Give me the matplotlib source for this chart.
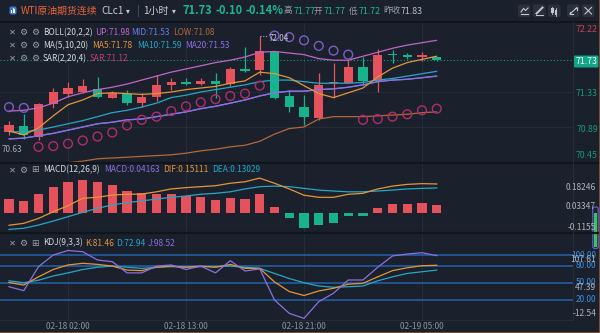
import matplotlib
matplotlib.use("Agg")
import matplotlib.pyplot as plt
from matplotlib.patches import Rectangle, FancyBboxPatch
import numpy as np

plt.rcParams['font.family'] = ['Noto Sans CJK SC', 'DejaVu Sans']

# ---------------- data: WTI crude, 1h candles ----------------
opens  = [70.83, 70.90, 70.76, 71.18, 71.31, 71.33, 71.37, 71.26, 71.30, 71.19,
          71.27, 71.42, 71.45, 71.43, 71.47, 71.43, 71.62, 71.61, 71.83, 71.28,
          71.14, 71.00, 71.44, 71.44, 71.64, 71.47, 71.80, 71.79, 71.77, 71.77]
highs  = [70.96, 71.05, 71.19, 71.38, 71.45, 71.49, 71.52, 71.34, 71.35, 71.32,
          71.54, 71.50, 71.50, 71.50, 71.57, 71.65, 71.90, 72.04, 71.84, 71.36,
          71.29, 71.57, 71.70, 71.74, 71.77, 71.87, 71.86, 71.82, 71.83, 71.77]
lows   = [70.79, 70.74, 70.73, 71.13, 71.27, 71.32, 71.25, 71.25, 71.17, 71.14,
          71.22, 71.36, 71.42, 71.42, 71.26, 71.40, 71.58, 71.54, 71.24, 71.08,
          70.92, 70.98, 71.25, 71.44, 71.42, 71.33, 71.69, 71.74, 71.72, 71.72]
closes = [70.92, 70.79, 71.18, 71.33, 71.38, 71.40, 71.27, 71.32, 71.19, 71.27,
          71.42, 71.46, 71.43, 71.47, 71.43, 71.62, 71.60, 71.85, 71.26, 71.14,
          71.01, 71.42, 71.45, 71.65, 71.47, 71.80, 71.79, 71.77, 71.79, 71.73]

boll_up  = [71.09, 71.10, 71.13, 71.19, 71.27, 71.32, 71.36, 71.39, 71.43, 71.48,
            71.53, 71.58, 71.62, 71.66, 71.70, 71.73, 71.77, 71.83, 71.84, 71.82,
            71.80, 71.75, 71.73, 71.73, 71.78, 71.83, 71.88, 71.92, 71.95, 71.98]
boll_mid = [70.74, 70.75, 70.78, 70.81, 70.85, 70.89, 70.93, 70.95, 70.98, 70.99,
            71.02, 71.05, 71.08, 71.12, 71.15, 71.19, 71.23, 71.28, 71.32, 71.34,
            71.34, 71.36, 71.37, 71.39, 71.42, 71.46, 71.48, 71.49, 71.51, 71.53]
boll_low = [70.39, 70.40, 70.42, 70.44, 70.44, 70.46, 70.49, 70.50, 70.51, 70.52,
            70.53, 70.54, 70.56, 70.59, 70.61, 70.64, 70.66, 70.71, 70.80, 70.87,
            70.89, 70.99, 71.02, 71.02, 71.02, 71.03, 71.04, 71.05, 71.07, 71.08]
ma5  = [70.84, 70.79, 70.88, 71.03, 71.17, 71.23, 71.31, 71.32, 71.31, 71.30,
        71.31, 71.33, 71.36, 71.38, 71.40, 71.44, 71.47, 71.58, 71.56, 71.51,
        71.41, 71.31, 71.26, 71.32, 71.38, 71.52, 71.63, 71.70, 71.74, 71.78]
ma10 = [70.83, 70.83, 70.85, 70.89, 70.93, 70.97, 71.02, 71.07, 71.10, 71.14,
        71.19, 71.26, 71.29, 71.33, 71.36, 71.39, 71.42, 71.46, 71.48, 71.48,
        71.46, 71.44, 71.44, 71.44, 71.45, 71.48, 71.50, 71.53, 71.56, 71.59]
ma20 = boll_mid  # BOLL middle band is the 20-period MA
sar  = [71.14, 71.13, 70.64, 70.65, 70.68, 70.72, 70.77, 70.82, 70.91, 70.98,
        71.02, 71.09, 71.15, 71.20, 71.24, 71.28, 71.31, 71.41, 72.04, 72.02,
        71.98, 71.91, 71.85, 71.80, 70.98, 70.99, 71.02, 71.05, 71.10, 71.12]

macd_hist = [0.072, 0.062, 0.098, 0.137, 0.163, 0.174, 0.160, 0.146, 0.114, 0.102,
             0.098, 0.098, 0.088, 0.081, 0.067, 0.076, 0.072, 0.097, 0.032, -0.030,
             -0.082, -0.065, -0.053, -0.016, -0.016, 0.023, 0.047, 0.047, 0.053, 0.04163]
dif = [-0.066, -0.056, -0.030, 0.005, 0.037, 0.076, 0.081, 0.093, 0.097, 0.098,
       0.110, 0.125, 0.132, 0.137, 0.142, 0.155, 0.163, 0.182, 0.155, 0.125,
       0.092, 0.081, 0.081, 0.097, 0.102, 0.125, 0.140, 0.149, 0.153, 0.15111]
dea = [-0.088, -0.082, -0.065, -0.044, -0.021, 0.002, 0.023, 0.041, 0.053, 0.062,
       0.072, 0.081, 0.088, 0.097, 0.102, 0.110, 0.125, 0.137, 0.140, 0.137,
       0.128, 0.119, 0.114, 0.110, 0.110, 0.114, 0.119, 0.125, 0.128, 0.13029]

k_line = [51.0, 46.5, 61.0, 74.0, 82.0, 85.0, 83.0, 80.0, 73.0, 72.0,
          78.0, 80.0, 78.0, 80.0, 78.0, 83.0, 76.0, 76.0, 52.0, 35.0,
          28.0, 36.0, 40.7, 48.0, 49.5, 61.0, 72.0, 77.0, 80.7, 81.46]
d_line = [54.0, 50.6, 55.0, 62.5, 68.0, 74.0, 78.0, 80.0, 78.0, 76.0,
          78.0, 79.0, 78.0, 79.0, 79.0, 80.0, 78.0, 76.0, 67.0, 58.0,
          50.6, 44.8, 42.5, 43.5, 44.8, 54.0, 61.0, 67.0, 70.0, 72.94]
j_line = [43.5, 36.5, 79.0, 99.6, 107.61, 105.5, 90.8, 87.8, 68.0, 68.0,
          80.0, 82.0, 74.0, 80.0, 68.0, 89.6, 71.3, 75.0, 20.0, -3.6,
          -12.54, 17.0, 32.0, 55.4, 55.4, 78.0, 98.0, 101.4, 103.7, 98.52]

tick_pos = [4, 12, 20, 28]
tick_labels = ["02-18 02:00", "02-18 13:00", "02-18 21:00", "02-19 05:00"]

last_price = 71.73
price_axis = ["72.22", "71.33", "70.89", "70.45"]
macd_axis = ["0.18246", "0.03347", "-0.1155"]
kdj_levels = [100, 80, 50, 20]
kdj_extra = ["107.61", "47.39", "-12.54"]

# ---------------- styling / layout ----------------
W, H = 600, 333
BG = '#1b212c'
GRID = '#252c38'
SEP = '#10141b'
RED = '#e5525c'
GREEN = '#17b38d'
C_UP, C_MID, C_LOW = '#c066c6', '#6a7ee6', '#b4673a'
C_MA5, C_MA10, C_MA20 = '#e2963a', '#27a6c6', '#8c6fe0'
C_SAR_UP, C_SAR_DN = '#b02c6c', '#7d5cc4'
TXT = '#d2d6de'
GRAY = '#9aa0aa'
X0, STEP, PLOT_R = 9.0, 14.75, 573

fig = plt.figure(figsize=(W / 100, H / 100), dpi=100)
fig.patch.set_facecolor(BG)


def frect(x0, y0, x1, y1):
    return [x0 / W, 1 - y1 / H, (x1 - x0) / W, (y1 - y0) / H]


def panel(y0, y1, lo, hi):
    ax = fig.add_axes(frect(0, y0, PLOT_R, y1))
    ax.set_facecolor(BG)
    ax.set_xlim(-X0 / STEP, (PLOT_R - X0) / STEP)
    ax.set_ylim(lo, hi)
    ax.set_xticks([])
    ax.set_yticks([])
    for s in ax.spines.values():
        s.set_visible(False)
    for t in tick_pos:
        ax.axvline(t, color=GRID, lw=0.8, zorder=0)
    return ax


idx = np.arange(len(closes))

# ---- main price panel ----
PX = 79.5  # pixels per price unit
ax = panel(22, 162, 71.33 - 70 / PX, 71.33 + 70 / PX)
for g in (71.33, 70.89):
    ax.axhline(g, color=GRID, lw=0.8, zorder=0)
ax.axhline(last_price, color='#139a80', lw=0.8, ls=(0, (1, 2)), zorder=2)

for i, o, h, l, c in zip(idx, opens, highs, lows, closes):
    col = RED if c > o else GREEN
    ax.vlines(i, l, h, color=col, lw=0.9, zorder=3)
    ax.add_patch(Rectangle((i - 0.32, min(o, c)), 0.64, max(abs(c - o), 0.012),
                           facecolor=col, edgecolor='none', zorder=4))

for series, col in ((boll_up, C_UP), (boll_low, C_LOW), (boll_mid, C_MID),
                    (ma10, C_MA10), (ma20, C_MA20), (ma5, C_MA5)):
    ax.plot(idx, series, color=col, lw=0.9, zorder=5, solid_capstyle='round')

sar_cols = [C_SAR_DN if s > c else C_SAR_UP for s, c in zip(sar, closes)]
ax.scatter(idx, sar, s=40, facecolors='none', edgecolors=sar_cols, linewidths=1.0, zorder=6)

hi_i = int(np.argmax(highs))
ax.plot([hi_i + 0.05, hi_i + 0.55], [highs[hi_i]] * 2, color='#a8acb4', lw=0.8,
        ls=(0, (1, 1.5)), zorder=7)
ax.text(hi_i + 0.58, highs[hi_i] - 0.035, f"{highs[hi_i]:.2f}", color='#c0c4cc',
        fontsize=5.8, ha='left', va='center', zorder=7)

# ---- MACD panel ----
MP = 190.0
axm = panel(164, 233, (212.7 - 233) / MP, (212.7 - 164) / MP)
axm.bar(idx, macd_hist, width=0.64, color=[RED if v >= 0 else GREEN for v in macd_hist], zorder=3)
axm.plot(idx, dea, color=C_MA10, lw=0.9, zorder=4)
axm.plot(idx, dif, color=C_MA5, lw=0.9, zorder=4)

# ---- KDJ panel ----
KP = 0.565
axk = panel(233, 320, (311.3 - 320) / KP, (311.3 - 233) / KP)
for lv in kdj_levels:
    axk.axhline(lv, color='#2263ad', lw=1.1, zorder=1)
axk.plot(idx, d_line, color=C_MA10, lw=0.9, zorder=3)
axk.plot(idx, k_line, color=C_MA5, lw=0.9, zorder=3)
axk.plot(idx, j_line, color=C_MA20, lw=0.9, zorder=4)

# ---------------- overlay: header, legends, axis labels ----------------
oax = fig.add_axes([0, 0, 1, 1], zorder=10)
oax.set_xlim(0, W)
oax.set_ylim(H, 0)
oax.axis('off')
oax.patch.set_alpha(0)

# separators
oax.plot([0, W], [22, 22], color=SEP, lw=1.2)
oax.plot([0, W], [163, 163], color=SEP, lw=1.6)
oax.plot([0, W], [233, 233], color=SEP, lw=1.6)
oax.plot([0, PLOT_R], [320, 320], color=GRID, lw=0.8)
oax.plot([PLOT_R, PLOT_R], [22, 320], color=GRID, lw=0.8)
oax.plot([599.5, 599.5], [0, H], color='#8a5636', lw=1.2)
oax.plot([0, W], [332.5, 332.5], color='#8a5636', lw=1.2)


def t(x, y, s, col=TXT, size=6.0, **kw):
    kw.setdefault('ha', 'left')
    kw.setdefault('va', 'center')
    oax.text(x, y, s, color=col, fontsize=size, **kw)


# title bar
oax.add_patch(FancyBboxPatch((9.5, 6.5), 7, 8, boxstyle="round,pad=0,rounding_size=2",
                             facecolor='#3a7ad8', edgecolor='none'))
for bx, bh in ((11.3, 3), (13.0, 5), (14.7, 4)):
    oax.add_patch(Rectangle((bx - 0.5, 13 - bh), 1.0, bh, facecolor='white', edgecolor='none'))
t(20.5, 11, "WTI原油期货连续", '#e8643a', 7.1)
t(101, 11, "CLc1", '#c8ccd4', 7.2)
t(126, 11, "▾", '#c8ccd4', 5.5)
t(137, 11, "|", '#5a606c', 7.4)
t(143, 11, "1小时", '#c8ccd4', 7.2)
t(172, 11, "▾", '#c8ccd4', 5.5)
t(182.5, 11, "71.73", '#1fb591', 8, fontweight='bold')
t(215, 11, "-0.10", '#1fb591', 8, fontweight='bold')
t(245, 11, "-0.14%", '#1fb591', 8, fontweight='bold')
for x, lab, val, vcol in ((284, "高", "71.77", '#1fb591'), (314, "开", "71.77", '#1fb591'),
                          (349, "低", "71.72", '#1fb591'), (383, "昨收", "71.83", '#b8bcc4')):
    t(x, 11, lab, '#9aa0aa', 6.2)
    t(x + (17.5 if len(lab) == 2 else 9.5), 11, val, vcol, 6.4)

# toolbar buttons
for bx in (518, 533, 548, 567, 582):
    oax.add_patch(FancyBboxPatch((bx, 4.5), 12.5, 12.5, boxstyle="round,pad=0,rounding_size=2",
                                 facecolor='#2a303c', edgecolor='none'))
ic = '#c4c8d0'
oax.plot([521, 523.5, 525.5, 528], [12, 8.5, 10.5, 8], color=ic, lw=0.8)
oax.plot([521, 528], [14, 14], color=ic, lw=0.8)
oax.plot([536.5, 542.5], [13.5, 7.5], color=ic, lw=1.4)
oax.plot([536, 543], [14.5, 14.5], color=ic, lw=0.7)
oax.add_patch(Rectangle((551.2, 8), 2.4, 5, facecolor=ic, edgecolor='none'))
oax.add_patch(Rectangle((555, 9.5), 2.4, 5, facecolor=ic, edgecolor='none'))
oax.plot([552.4, 552.4], [6.8, 14.2], color=ic, lw=0.6)
oax.plot([556.2, 556.2], [8.3, 15.6], color=ic, lw=0.6)
oax.plot([570, 577], [14, 7.5], color=ic, lw=0.8)
oax.plot([574.5, 577, 577], [7.5, 7.5, 10], color=ic, lw=0.8)
oax.plot([570, 570, 572.5], [11.5, 14, 14], color=ic, lw=0.8)
oax.plot([585, 591.5], [7.5, 14], color=ic, lw=0.8)
oax.plot([585, 591.5], [14, 7.5], color=ic, lw=0.8)


def icons(y, third):
    t(9, y, "✕", GRAY, 6.0, family='DejaVu Sans')
    t(19.5, y, "⚙", GRAY, 6.6, family='DejaVu Sans')
    t(31.5, y, third, GRAY, 6.6, family='DejaVu Sans')


# indicator legends
icons(32.5, "⚙")
t(43, 32.5, "BOLL(20,2,2)")
t(95, 32.5, f"UP:{boll_up[-1]:.2f}", C_UP)
t(131, 32.5, f"MID:{boll_mid[-1]:.2f}", C_MID)
t(173, 32.5, f"LOW:{boll_low[-1]:.2f}", C_LOW)

icons(45.5, "⚙")
t(43, 45.5, "MA(5,10,20)")
t(92, 45.5, f"MA5:{ma5[-1]:.2f}", C_MA5)
t(137, 45.5, f"MA10:{ma10[-1]:.2f}", C_MA10)
t(185, 45.5, f"MA20:{ma20[-1]:.2f}", C_MA20)

icons(58.5, "⚙")
t(43, 58.5, "SAR(2,20,4)")
t(90, 58.5, f"SAR:{sar[-1]:.2f}", '#c0407a')

icons(170, "⊞")
t(43, 170, "MACD(12,26,9)")
t(104, 170, f"MACD:{macd_hist[-1]:.5f}", C_MA20)
t(163, 170, f"DIF:{dif[-1]:.5f}", C_MA5)
t(212, 170, f"DEA:{dea[-1]:.5f}", C_MA10)

icons(243, "⊞")
t(43, 243, "KDJ(9,3,3)")
t(85, 243, f"K:{k_line[-1]:.2f}", C_MA5)
t(116, 243, f"D:{d_line[-1]:.2f}", C_MA10)
t(148, 243, f"J:{j_line[-1]:.2f}", C_MA20)

# low marker on the left edge
t(2, 150, "70.63", '#a8acb4', 5.8)

# right price axis
t(587, 30, price_axis[0], '#c8424c', 6.3, ha='center')
for lab, y in zip(price_axis[1:], (93, 129, 155)):
    t(587, y, lab, '#17987b', 6.3, ha='center')
oax.add_patch(FancyBboxPatch((574, 55.5), 24.5, 12, boxstyle="round,pad=0,rounding_size=1",
                             facecolor='#13a587', edgecolor='none'))
t(586.3, 61.5, f"{last_price:.2f}", 'white', 6.3, ha='center')

for lab, y in zip(macd_axis, (187.5, 206.7, 227.5)):
    t(596, y, lab, '#b0b4bc', 6.0, ha='right')

for lv, y in zip(kdj_levels, (255, 266, 282.7, 300)):
    t(596, y, f"{lv:.2f}", '#3a8ee0', 6.0, ha='right')
for lab, y in zip(kdj_extra, (259.5, 287.3, 314)):
    t(596, y, lab, '#b0b4bc', 6.0, ha='right')

# scroll handle on the right edge
oax.add_patch(FancyBboxPatch((592.8, 207), 5.4, 41.5, boxstyle="round,pad=0,rounding_size=2",
                             facecolor='none', edgecolor='#5b5ed2', lw=0.9))
oax.add_patch(Rectangle((594.2, 213), 2.6, 34, facecolor='#38c84e', edgecolor='none'))

# time axis
for p, lab in zip(tick_pos, tick_labels):
    t(X0 + p * STEP, 326.5, lab, '#8a909a', 6.0, ha='center')

fig.savefig("out.png", dpi=100, facecolor=BG)
